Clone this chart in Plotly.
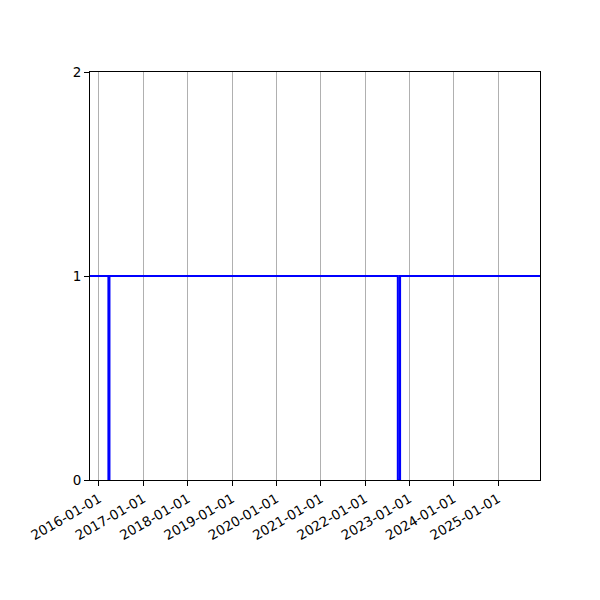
import plotly.graph_objects as go

# status series (1 = up, 0 = down)
dates = ["2015-10-01", "2016-03-19", "2016-03-19", "2016-03-27", "2016-03-27",
         "2022-09-28", "2022-09-28", "2022-10-16", "2022-10-16", "2026-01-01"]
values = [1, 1, 0, 0, 1, 1, 0, 0, 1, 1]

tick_dates = ["%d-01-01" % y for y in range(2016, 2026)]
y_ticks = [0, 1, 2]

fig = go.Figure()
fig.add_trace(go.Scatter(
    x=dates, y=values,
    mode="lines",
    line=dict(color="#0000ff", width=2.1),
    showlegend=False,
))

fig.update_xaxes(
    type="date",
    range=["2015-10-19", "2025-12-12"],
    tickvals=tick_dates,
    ticktext=tick_dates,
    tickangle=-30,
    showgrid=True,
    gridcolor="#b0b0b0",
    gridwidth=1,
    zeroline=False,
    showline=True,
    linecolor="black",
    linewidth=1,
    mirror=True,
    ticks="outside",
    ticklen=5,
    tickwidth=1,
    tickcolor="black",
)
fig.update_yaxes(
    range=[0, 2],
    tickvals=y_ticks,
    showgrid=False,
    zeroline=False,
    showline=True,
    linecolor="black",
    linewidth=1,
    mirror=True,
    ticks="outside",
    ticklen=5,
    tickwidth=1,
    tickcolor="black",
)

# the page puts the figure 8px in from the corner, so margins are shifted
fig.update_layout(
    width=600,
    height=600,
    margin=dict(l=82, r=68, t=64, b=128),
    plot_bgcolor="white",
    paper_bgcolor="white",
    font=dict(family="DejaVu Sans", size=13.5, color="black"),
)

fig.write_html("out.html")
